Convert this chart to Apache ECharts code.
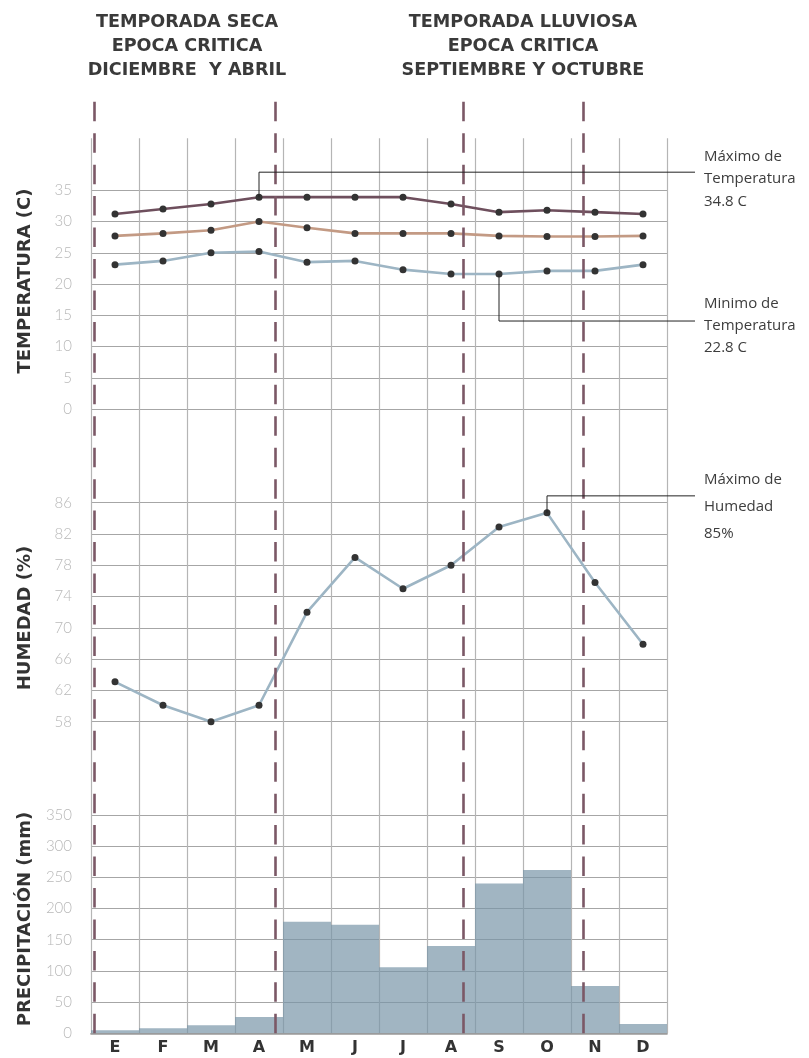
<!DOCTYPE html>
<html><head><meta charset="utf-8">
<script src="https://cdn.jsdelivr.net/npm/echarts@6/dist/echarts.min.js"></script>
<style>html,body{margin:0;padding:0;background:#fff}#c{width:809px;height:1058px}</style>
</head><body><div id="c"></div>
<script>
// ---- data ----
const months = ['E','F','M','A','M','J','J','A','S','O','N','D'];
const tempMax  = [31.2, 32.0, 32.8, 33.9, 33.9, 33.9, 33.9, 32.8, 31.5, 31.8, 31.5, 31.2];
const tempMean = [27.7, 28.1, 28.6, 30.0, 29.0, 28.1, 28.1, 28.1, 27.7, 27.6, 27.6, 27.7];
const tempMin  = [23.1, 23.7, 25.0, 25.2, 23.5, 23.7, 22.3, 21.6, 21.6, 22.1, 22.1, 23.1];
const humidity = [63.1, 60.1, 58.0, 60.1, 72.0, 79.0, 75.0, 78.0, 82.9, 84.7, 75.8, 67.9];
const precipitation = [5, 8, 13, 26, 179, 174, 106, 140, 240, 262, 76, 15];
const tempTicks = [0, 5, 10, 15, 20, 25, 30, 35];
const humTicks  = [58, 62, 66, 70, 74, 78, 82, 86];
const precTicks = [0, 50, 100, 150, 200, 250, 300, 350];
// column positions (in month units) of the critical-period dashed lines
const criticalBounds = [0.06, 3.83, 7.75, 10.25];
const headerLeft  = ['TEMPORADA SECA', 'EPOCA CRITICA', 'DICIEMBRE  Y ABRIL'];
const headerRight = ['TEMPORADA LLUVIOSA', 'EPOCA CRITICA', 'SEPTIEMBRE Y OCTUBRE'];
const noteMaxT = ['Máximo de', 'Temperatura', '34.8 C'];
const noteMinT = ['Minimo de', 'Temperatura', '22.8 C'];
const noteMaxH = ['Máximo de', 'Humedad', '85%'];

// ---- styles ----
const L = 91, R = 142;
const hLine = '#a6a6a6', vLine = '#b5b5b5';
const tickLbl = {color: '#b8b8b8', fontFamily: 'Lato', fontWeight: 300, fontSize: 15, margin: 19};
const dot = {color: '#333'};

function valAxis(grid, ticks) {
  return {
    type: 'value', gridIndex: grid,
    min: ticks[0], max: ticks[ticks.length - 1], interval: ticks[1] - ticks[0],
    axisLine: {show: false}, axisTick: {show: false},
    axisLabel: tickLbl,
    splitLine: {show: true, lineStyle: {color: hLine, width: 1.2}}
  };
}
function catAxis(grid, showLabels) {
  return {
    type: 'category', gridIndex: grid, data: months, boundaryGap: true, z: 3,
    axisLine: showLabels ? {show: true, lineStyle: {color: '#999', width: 1.6}} : {show: false},
    axisTick: {show: false}, splitLine: {show: false},
    axisLabel: showLabels ? {show: true, color: '#333', fontFamily: 'DejaVu Sans', fontWeight: 'bold', fontSize: 16, margin: 7} : {show: false}
  };
}
function lineSeries(grid, data, color) {
  return {
    type: 'line', xAxisIndex: grid, yAxisIndex: grid, data: data,
    symbol: 'circle', symbolSize: 7, itemStyle: dot,
    lineStyle: {color: color, width: 2.6}, z: 4, silent: true
  };
}

const chart = echarts.init(document.getElementById('c'), null, {renderer: 'canvas'});
const option = {
  animation: false,
  backgroundColor: '#fff',
  grid: [
    {left: L, right: R, top: 138.3, height: 895},      // 0 vertical background lines
    {left: L, right: R, top: 101.7, height: 931.6},    // 1 dashed critical lines
    {left: L, right: R, top: 190.3, height: 218.7},    // 2 temperature
    {left: L, right: R, top: 502.7, height: 219},      // 3 humidity
    {left: L, right: R, top: 815, height: 218.3}       // 4 precipitation
  ],
  xAxis: [
    {type: 'value', gridIndex: 0, min: 0, max: months.length, interval: 1, position: 'top',
     axisLine: {show: true, lineStyle: {color: hLine, width: 1.2}}, axisTick: {show: false}, axisLabel: {show: false},
     splitLine: {show: true, lineStyle: {color: vLine, width: 1.2}}},
    {type: 'value', gridIndex: 1, min: 0, max: months.length, show: false},
    catAxis(2, false), catAxis(3, false), catAxis(4, true)
  ],
  yAxis: [
    {type: 'value', gridIndex: 0, min: 0, max: 1, show: false},
    {type: 'value', gridIndex: 1, min: 0, max: 1, show: false},
    valAxis(2, tempTicks), valAxis(3, humTicks), valAxis(4, precTicks)
  ],
  series: [
    {type: 'line', xAxisIndex: 1, yAxisIndex: 1, data: [], z: 6, silent: true,
     markLine: {silent: true, symbol: ['none', 'none'], label: {show: false},
       lineStyle: {color: '#7b5866', width: 2.6, type: [19.5, 11.95]},
       data: criticalBounds.map(v => ({xAxis: v}))}},
    lineSeries(2, tempMax, '#6e4f5d'),
    lineSeries(2, tempMean, '#c39a84'),
    lineSeries(2, tempMin, '#9db5c4'),
    lineSeries(3, humidity, '#9db5c4'),
    {type: 'bar', xAxisIndex: 4, yAxisIndex: 4, data: precipitation, barCategoryGap: '0%',
     itemStyle: {color: 'rgba(121,149,168,0.7)'}, z: 2, silent: true}
  ]
};
chart.setOption(option);

// ---- annotations (positions derived from the data through the axes) ----
function px(axis, i, v) { return chart.convertToPixel({xAxisIndex: axis, yAxisIndex: axis}, [i, v]); }
const noteFont = {fontFamily: 'Open Sans', fontSize: 15, fill: '#3d3d3d'};
const g = [];
function leader(pt, elbowDy, textTop, lines, lh) {
  g.push({type: 'polyline', z: 10, silent: true,
    shape: {points: [[pt[0], pt[1]], [pt[0], pt[1] + elbowDy], [695, pt[1] + elbowDy]]},
    style: {stroke: '#222', lineWidth: 1, fill: null}});
  g.push({type: 'text', z: 10, silent: true, left: 704, top: textTop,
    style: Object.assign({text: lines.join('\n'), lineHeight: lh, verticalAlign: 'top'}, noteFont)});
}
const iMaxT = 3, iMinT = 8, iMaxH = 9;
leader(px(2, iMaxT, tempMax[iMaxT]), -25, 145.4, noteMaxT, 22.5);
leader(px(2, iMinT, tempMin[iMinT]), 47, 293, noteMinT, 22);
leader(px(3, iMaxH, humidity[iMaxH]), -17, 466, noteMaxH, 27);

const headFont = {fontFamily: 'DejaVu Sans', fontWeight: 'bold', fontSize: 17.6, fill: '#3a3a3a', align: 'center', verticalAlign: 'top', lineHeight: 24.2};
g.push({type: 'text', silent: true, x: 187, y: 10, style: Object.assign({text: headerLeft.join('\n')}, headFont)});
g.push({type: 'text', silent: true, x: 523, y: 10, style: Object.assign({text: headerRight.join('\n')}, headFont)});

const titleFont = {fontFamily: 'DejaVu Sans', fontWeight: 'bold', fontSize: 18, fill: '#333', align: 'center', verticalAlign: 'middle'};
[['TEMPERATURA (C)', 281], ['HUMEDAD (%)', 618], ['PRECIPITACIÓN (mm)', 919]].forEach(t => {
  g.push({type: 'text', silent: true, x: 25, y: t[1], rotation: Math.PI / 2, style: Object.assign({text: t[0]}, titleFont)});
});
chart.setOption({graphic: g});
</script>
</body></html>
